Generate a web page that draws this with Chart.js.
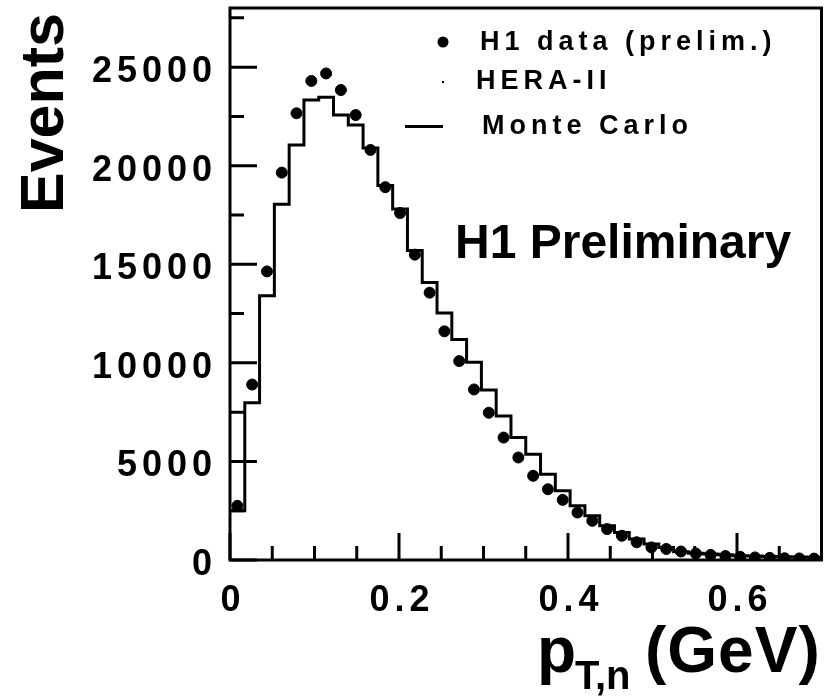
<!DOCTYPE html>
<html>
<head>
<meta charset="utf-8">
<script src="https://cdn.jsdelivr.net/npm/chart.js@4.4.1/dist/chart.umd.min.js"></script>
<style>
  html, body { margin: 0; padding: 0; background: #fff; }
  #wrap { width: 828px; height: 696px; }
</style>
</head>
<body>
<div id="wrap"><canvas id="ptChart" width="828" height="696"></canvas></div>
<script>
// histogram binning: 40 bins from 0 to 0.7 GeV
var binWidth = 0.0175;
var xMax = 0.7;

// H1 data (prelim.), events per bin
var dataEvents = [2750, 8900, 14640, 19650, 22660, 24300, 24680, 23840, 22570, 20800,
                  18910, 17600, 15490, 13560, 11600, 10090, 8650, 7470, 6210, 5200,
                  4270, 3590, 3050, 2410, 1990, 1570, 1230, 900, 640, 560,
                  430, 330, 260, 200, 160, 130, 110, 90, 80, 70];

// Monte Carlo, events per bin
var mcEvents = [2500, 7980, 13410, 18050, 21050, 23330, 23470, 22570, 22060, 20900,
                19000, 17800, 15700, 14070, 12535, 11180, 10035, 8620, 7300, 6220,
                5360, 4350, 3510, 2750, 2240, 1740, 1400, 1060, 810, 640,
                420, 340, 300, 260, 220, 200, 180, 160, 150, 140];

var xTickLabels = [0, 0.2, 0.4, 0.6];
var xMinorTicks = [0.05, 0.1, 0.15, 0.25, 0.3, 0.35, 0.45, 0.5, 0.55, 0.65];
var yTickLabels = [0, 5000, 10000, 15000, 20000, 25000];
var yMinorTicks = [2500, 7500, 12500, 17500, 22500, 27500];

var FONT = '"Liberation Sans", Arial, Helvetica, sans-serif';

var dataPoints = [];
for (var i = 0; i < dataEvents.length; i++) {
    dataPoints.push({ x: (i + 0.5) * binWidth, y: dataEvents[i] });
}
var mcPoints = [];
for (var j = 0; j < mcEvents.length; j++) {
    mcPoints.push({ x: j * binWidth, y: mcEvents[j] });
}
mcPoints.push({ x: xMax, y: mcEvents[mcEvents.length - 1] });

function spaced(ctx, px) {
    if ('letterSpacing' in ctx) ctx.letterSpacing = px + 'px';
}

// frame, inward ticks and all the text around the plot
var decorPlugin = {
    id: 'decor',
    afterDraw: function(chart) {
        var ctx = chart.ctx;
        var a = chart.chartArea;
        var xs = chart.scales.x;
        var ys = chart.scales.y;
        ctx.save();
        ctx.strokeStyle = '#000';
        ctx.lineWidth = 3;
        ctx.strokeRect(a.left, a.top, a.right - a.left, a.bottom - a.top);

        ctx.beginPath();
        xTickLabels.forEach(function(v) {
            var px = xs.getPixelForValue(v);
            ctx.moveTo(px, a.bottom); ctx.lineTo(px, a.bottom - 27);
        });
        xMinorTicks.forEach(function(v) {
            var px = xs.getPixelForValue(v);
            ctx.moveTo(px, a.bottom); ctx.lineTo(px, a.bottom - 14);
        });
        yTickLabels.forEach(function(v) {
            var py = ys.getPixelForValue(v);
            ctx.moveTo(a.left, py); ctx.lineTo(a.left + 27, py);
        });
        yMinorTicks.forEach(function(v) {
            var py = ys.getPixelForValue(v);
            ctx.moveTo(a.left, py); ctx.lineTo(a.left + 14, py);
        });
        ctx.stroke();

        ctx.fillStyle = '#000';

        // tick labels
        spaced(ctx, 5);
        ctx.font = 'bold 36px ' + FONT;
        ctx.textAlign = 'right';
        ctx.textBaseline = 'alphabetic';
        yTickLabels.forEach(function(v) {
            ctx.fillText(String(v), a.left - 13, ys.getPixelForValue(v) + 15);
        });
        ctx.textAlign = 'center';
        xTickLabels.forEach(function(v) {
            ctx.fillText(String(v), xs.getPixelForValue(v) + 3, a.bottom + 51);
        });

        // legend
        spaced(ctx, 5);
        ctx.font = 'bold 27px ' + FONT;
        ctx.textAlign = 'left';
        ctx.textBaseline = 'middle';
        ctx.fillText('H1 data (prelim.)', 480, 43);
        ctx.fillText('HERA-II', 476, 82);
        ctx.fillText('Monte Carlo', 482, 127);
        ctx.beginPath();
        ctx.arc(443, 42, 5.5, 0, Math.PI * 2);
        ctx.fill();
        ctx.fillRect(442, 81, 2, 2);
        ctx.fillRect(405, 125, 38, 3);

        // annotation
        spaced(ctx, 0);
        ctx.font = 'bold 48px ' + FONT;
        ctx.textBaseline = 'alphabetic';
        ctx.fillText('H1 Preliminary', 455, 258);

        // axis titles
        ctx.font = 'bold 64px ' + FONT;
        ctx.fillText('p', 537, 672);
        ctx.font = 'bold 40px ' + FONT;
        ctx.fillText('T,n', 575, 689);
        spaced(ctx, 1);
        ctx.font = 'bold 64px ' + FONT;
        ctx.fillText('(GeV)', 645, 672);

        spaced(ctx, 0);
        ctx.translate(63, 213);
        ctx.rotate(-Math.PI / 2);
        ctx.font = 'bold 61px ' + FONT;
        ctx.fillText('Events', 0, 0);
        ctx.restore();
    }
};

var ptChart = new Chart(document.getElementById('ptChart'), {
    data: {
        datasets: [{
            type: 'line',
            label: 'Monte Carlo',
            data: mcPoints,
            borderColor: '#000',
            borderWidth: 3,
            stepped: 'before',
            pointRadius: 0,
            fill: false,
            order: 2
        }, {
            type: 'scatter',
            label: 'H1 data (prelim.)',
            data: dataPoints,
            backgroundColor: '#000',
            borderColor: '#000',
            pointRadius: 5.5,
            pointHoverRadius: 5.5,
            order: 1
        }]
    },
    options: {
        responsive: false,
        animation: false,
        events: [],
        layout: { padding: { left: 230, right: 5, top: 8, bottom: 136 } },
        plugins: {
            legend: { display: false },
            tooltip: { enabled: false },
            title: { display: false }
        },
        scales: {
            x: {
                type: 'linear',
                min: 0,
                max: xMax,
                display: false
            },
            y: {
                type: 'linear',
                min: 0,
                max: 28000,
                display: false
            }
        }
    },
    plugins: [decorPlugin]
});
</script>
</body>
</html>
